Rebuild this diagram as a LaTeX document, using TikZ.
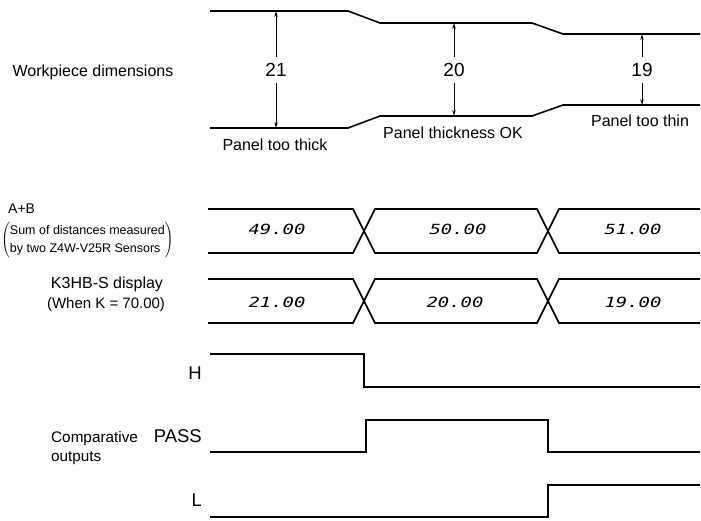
\documentclass[tikz,border=0pt]{standalone}
\usepackage{fontspec}
\setmainfont{Liberation Sans}
\newfontfamily\segfont{DejaVu Sans Mono}
\usetikzlibrary{arrows.meta}
\begin{document}
\begin{tikzpicture}[x=1pt,y=-1pt,
  wave/.style={line width=1.6pt,line join=miter},
  dim/.style={line width=0.7pt,-{Stealth[length=6pt,width=3.4pt]}},
  lbl/.style={font=\fontsize{16}{19}\selectfont,inner sep=0pt},
  num/.style={font=\fontsize{19}{22}\selectfont,inner sep=0pt,minimum height=26pt},
  sig/.style={font=\fontsize{18.5}{21}\selectfont,inner sep=0pt},
  seg/.style={font=\fontsize{14}{16}\selectfont\segfont\itshape,inner sep=0pt,xscale=1.35}]
\useasboundingbox (0,0) rectangle (701,520);

% workpiece profile
\coordinate (t1) at (276,11);
\coordinate (b1) at (276,128);
\coordinate (t2) at (454,23);
\coordinate (b2) at (454,116);
\coordinate (t3) at (642,34);
\coordinate (b3) at (642,105);
\draw[wave] (210,11) -- (348,11) -- (380,23) -- (532,23) -- (563,34) -- (700,34);
\draw[wave] (210,128) -- (348,128) -- (380,116) -- (532,116) -- (563,105) -- (700,105);

\node[lbl] (wd) at (93,72) {Workpiece dimensions};
\node[num] (n21) at (276,70) {21};
\node[num] (n20) at (454,70) {20};
\node[num] (n19) at (642,70) {19};
\draw[dim] (n21) -- (t1);
\draw[dim] (n21) -- (b1);
\draw[dim] (n20) -- (t2);
\draw[dim] (n20) -- (b2);
\draw[dim] (n19) -- (t3);
\draw[dim] (n19) -- (b3);
\node[lbl] (ptk) at (275,145) {Panel too thick};
\node[lbl] (pok) at (453,133) {Panel thickness OK};
\node[lbl] (ptn) at (640,121) {Panel too thin};

% bus rows
\draw[wave] (208,209) -- (353,209) -- (375,253) -- (537,253) -- (559,209) -- (700,209);
\draw[wave] (208,253) -- (353,253) -- (375,209) -- (537,209) -- (559,253) -- (700,253);
\draw[wave] (208,279) -- (353,279) -- (375,323) -- (537,323) -- (559,279) -- (700,279);
\draw[wave] (208,323) -- (353,323) -- (375,279) -- (537,279) -- (559,323) -- (700,323);

\node[seg] (v49) at (277,229) {49.00};
\node[seg] (v50) at (458,229) {50.00};
\node[seg] (v51) at (633,229) {51.00};
\node[seg] (v21) at (277,302) {21.00};
\node[seg] (v20) at (455,302) {20.00};
\node[seg] (v19) at (633,302) {19.00};

\node[font=\fontsize{14}{16}\selectfont,inner sep=0pt,anchor=west] (ab) at (8,209) {A+B};
\node[font=\fontsize{12.5}{18}\selectfont,inner sep=0pt,anchor=west] (sum) at (1,240)
  {$\left(\vcenter{\hbox{\begin{tabular}{@{}l@{}}Sum of distances measured\\by two Z4W-V25R Sensors\end{tabular}}}\right)$};
\node[lbl] (k3) at (107,284) {K3HB-S display};
\node[font=\fontsize{15}{18}\selectfont,inner sep=0pt] (wk) at (106,305) {(When K = 70.00)};

% comparative outputs
\draw[wave] (210,354) -- (364,354) -- (364,387) -- (700,387);
\draw[wave] (210,452) -- (366,452) -- (366,420) -- (548,420) -- (548,452) -- (700,452);
\draw[wave] (210,517) -- (548,517) -- (548,485) -- (700,485);

\node[sig,anchor=east] (h) at (202,373) {H};
\node[sig,anchor=east] (pass) at (202,436) {PASS};
\node[sig,anchor=east] (l) at (202,500) {L};
\node[font=\fontsize{15.3}{19}\selectfont,inner sep=0pt,anchor=west,align=left] (co) at (51,448) {Comparative\\outputs};
\end{tikzpicture}
\end{document}
